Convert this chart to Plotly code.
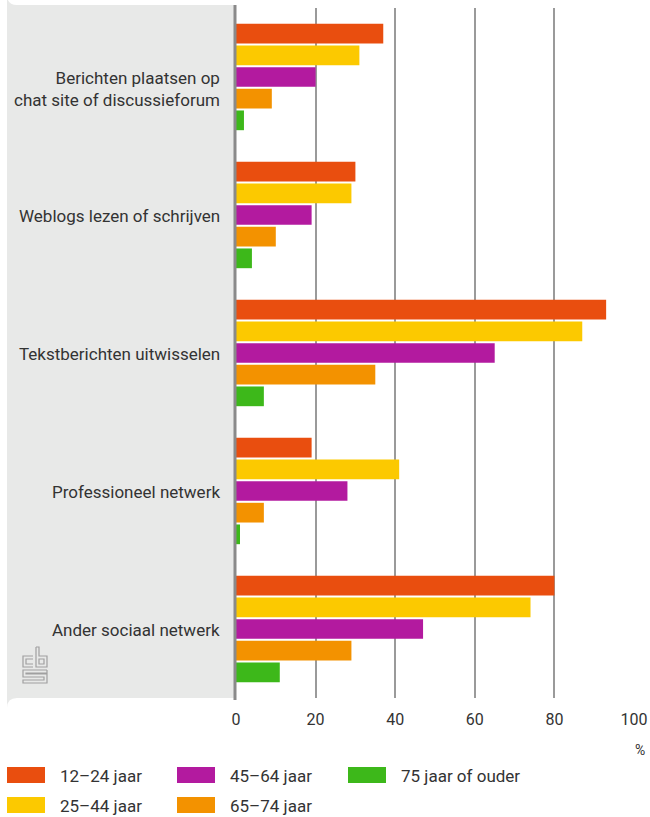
import plotly.graph_objects as go

categories = [
    "Berichten plaatsen op<br>chat site of discussieforum",
    "Weblogs lezen of schrijven",
    "Tekstberichten uitwisselen",
    "Professioneel netwerk",
    "Ander sociaal netwerk",
]
series_names = ["12–24 jaar", "25–44 jaar", "45–64 jaar", "65–74 jaar", "75 jaar of ouder"]
v_12_24 = [37, 30, 93, 19, 80]
v_25_44 = [31, 29, 87, 41, 74]
v_45_64 = [20, 19, 65, 28, 47]
v_65_74 = [9, 10, 35, 7, 29]
v_75 = [2, 4, 7, 1, 11]
series_values = [v_12_24, v_25_44, v_45_64, v_65_74, v_75]
colors = ["#E94E0F", "#FCC900", "#B31A9F", "#F39200", "#3DB81A"]
x_ticks = [0, 20, 40, 60, 80, 100]

W, H = 650, 817
ML, MR, MT, MB = 236, 16, 8, 119
PW, PH = W - ML - MR, H - MT - MB


def px(x):
    return (x - ML) / PW


def py(y):
    return (H - MB - y) / PH


FONT = "Roboto"
TXT = "#333333"

fig = go.Figure()
for name, vals, col in zip(series_names, series_values, colors):
    fig.add_trace(go.Bar(
        y=categories, x=vals, name=name, orientation="h",
        marker=dict(color=col, line=dict(width=0)),
        showlegend=False, hoverinfo="x+name",
    ))

shapes = []
# grey label panel with rounded left corners
x0, x1, y0, y1, r = px(7), px(236), py(5), py(698), 10
rx, ry = r / PW, r / PH
path = (f"M {x1},{y0} L {x1},{y1} L {x0+rx},{y1} Q {x0},{y1} {x0},{y1-ry} "
        f"L {x0},{y0+ry} Q {x0},{y0} {x0+rx},{y0} Z")
shapes.append(dict(type="path", xref="paper", yref="paper", path=path,
                   fillcolor="#E8E9E8", line=dict(width=0), layer="below"))
# axis line at zero
shapes.append(dict(type="line", xref="paper", yref="paper", x0=px(235), x1=px(235),
                   y0=py(5), y1=py(700), line=dict(color="#8A8A8A", width=3), layer="above"))

# cbs logo (approximate outline)
logo_col = "#A0A0A0"
def rect(xa, ya, xb, yb):
    shapes.append(dict(type="rect", xref="paper", yref="paper",
                       x0=px(xa), x1=px(xb), y0=py(ya), y1=py(yb),
                       line=dict(color=logo_col, width=1.2), fillcolor="rgba(0,0,0,0)"))
def pline(pts):
    d = "M " + " L ".join(f"{px(a)},{py(b)}" for a, b in pts)
    shapes.append(dict(type="path", xref="paper", yref="paper", path=d,
                       line=dict(color=logo_col, width=1.2)))
# c
pline([(33, 656), (23, 656), (23, 667), (33, 667)])
pline([(33, 659), (26, 659), (26, 664), (33, 664)])
# b
pline([(36, 647), (36, 667), (47, 667), (47, 656), (39, 656), (39, 647), (36, 647)])
rect(39, 659, 44, 664)
# s
pline([(47, 670), (23, 670), (23, 677), (44, 677), (44, 680), (23, 680), (23, 683), (47, 683),
       (47, 674), (26, 674), (26, 673), (47, 673), (47, 670)])

annotations = []
# category labels (placed on the category axis positions)
for cat in categories:
    multi = "<br>" in cat
    annotations.append(dict(xref="paper", yref="y", x=px(222), y=cat, text=cat,
                            showarrow=False, xanchor="right", yanchor="middle",
                            align="right", yshift=-12 if multi else -1,
                            font=dict(family=FONT, size=17, color=TXT)))

# legend (manual)
legend_pos = [(7, 767), (7, 797), (177, 767), (177, 797), (348, 767)]
for (lx, ly), name, col in zip(legend_pos, series_names, colors):
    shapes.append(dict(type="rect", xref="paper", yref="paper",
                       x0=px(lx), x1=px(lx + 38), y0=py(ly), y1=py(ly + 16),
                       fillcolor=col, line=dict(width=0)))
    annotations.append(dict(xref="paper", yref="paper", x=px(lx + 51), y=py(ly + 9),
                            text=name, showarrow=False, xanchor="left", yanchor="middle",
                            font=dict(family=FONT, size=17, color=TXT)))
annotations.append(dict(xref="paper", yref="paper", x=px(647), y=py(750), text="%",
                        showarrow=False, xanchor="right", yanchor="middle",
                        font=dict(family=FONT, size=14, color=TXT)))

fig.update_layout(
    width=W, height=H,
    margin=dict(l=ML, r=MR, t=MT, b=MB, autoexpand=False),
    paper_bgcolor="white", plot_bgcolor="white",
    barmode="group", bargap=0.215, bargroupgap=0.09,
    shapes=shapes, annotations=annotations,
    font=dict(family=FONT, size=16, color=TXT),
    xaxis=dict(range=[0, 100], tickvals=x_ticks, showgrid=True, gridcolor="#9A9A9A",
               gridwidth=1.5, zeroline=False, showline=False, ticks="",
               ticklabelstandoff=10, tickfont=dict(family=FONT, size=16, color=TXT),
               fixedrange=True, automargin=False),
    yaxis=dict(autorange="reversed", showgrid=False, zeroline=False, showline=False,
               ticks="", showticklabels=False, fixedrange=True, automargin=False),
)

fig.write_html("out.html", config={"displayModeBar": False})
with open("out.html", encoding="utf-8") as f:
    html = f.read()
html = html.replace("<body>", '<body style="margin:0;padding:0;overflow:hidden">', 1)
with open("out.html", "w", encoding="utf-8") as f:
    f.write(html)
